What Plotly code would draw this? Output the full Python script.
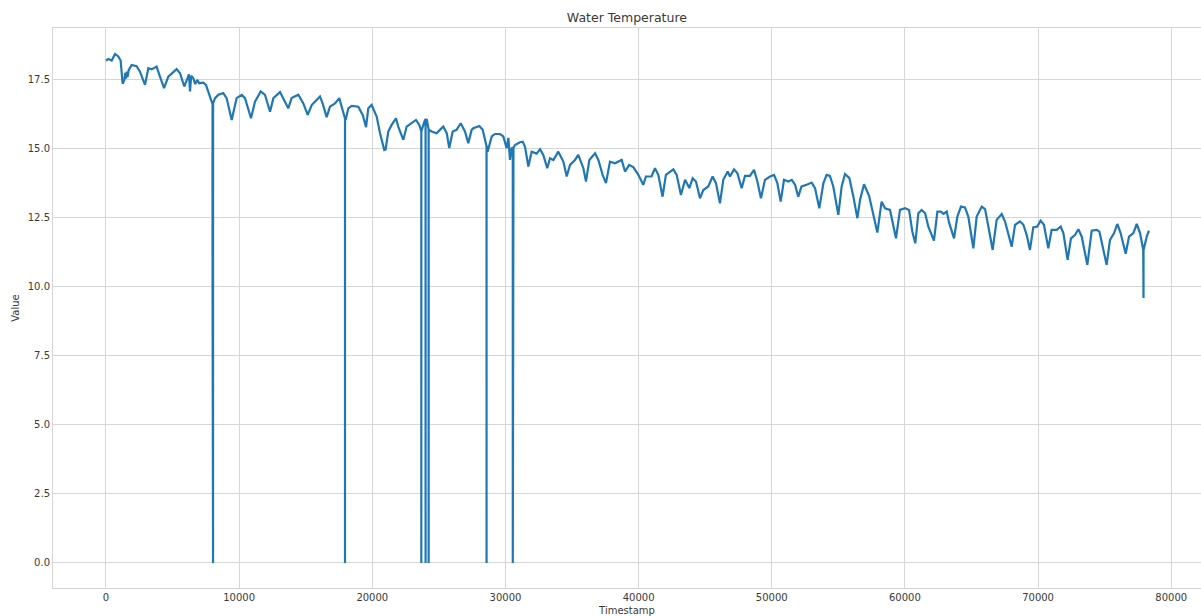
import plotly.graph_objects as go

# Water temperature readings (timestamp index, degrees)
timestamp = [
    0, 175, 430, 680, 925, 1100, 1250, 1380, 1450, 1500, 1560, 1620, 1700, 1930, 2300, 2550, 2930,
    3180, 3430, 3800, 4055, 4360, 4680, 5300, 5560, 5880, 6230, 6310, 6400, 6560, 6700, 6850, 7000,
    7310, 7510, 7810, 8000, 8001, 8002, 8040, 8041, 8042, 8190, 8440, 8810, 9060, 9440, 9810, 10190,
    10440, 10890, 11190, 11620, 11940, 12320, 12570, 13070, 13320, 13690, 13940, 14440, 14820, 15150,
    15450, 16070, 16270, 16570, 16820, 17200, 17520, 17820, 17950, 17951, 17952, 18000, 18200, 18450,
    18950, 19280, 19530, 19700, 19950, 20330, 20580, 20900, 21000, 21200, 21450, 21780, 21950, 22330,
    22580, 22960, 23280, 23530, 23680, 23681, 23682, 23910, 24000, 24001, 24002, 24090, 24230, 24231,
    24232, 24460, 24830, 25080, 25330, 25590, 25780, 26040, 26330, 26640, 26960, 27210, 27460, 27590,
    27840, 28040, 28290, 28540, 28580, 28581, 28582, 28660, 28970, 29210, 29590, 29840, 30090, 30220,
    30340, 30470, 30550, 30551, 30552, 30600, 30601, 30602, 30720, 31090, 31300, 31470, 31720, 31970,
    32340, 32600, 32840, 33140, 33350, 33600, 33970, 34350, 34600, 34850, 35220, 35470, 35850, 36050,
    36300, 36730, 36980, 37300, 37550, 37850, 38230, 38730, 38980, 39290, 39600, 39980, 40350, 40550,
    40970, 41230, 41480, 41800, 42050, 42230, 42610, 42860, 43180, 43490, 43810, 44060, 44310, 44610,
    44860, 45230, 45560, 45810, 46110, 46360, 46690, 46860, 47170, 47420, 47740, 47990, 48360, 48670,
    48920, 49190, 49490, 49870, 50170, 50420, 50670, 50920, 51250, 51500, 51750, 51990, 52240, 52620,
    53000, 53250, 53570, 53880, 54120, 54370, 54620, 55000, 55250, 55500, 55830, 56130, 56430, 56630,
    56930, 57310, 57630, 57930, 58250, 58510, 58880, 59130, 59330, 59630, 60010, 60310, 60560, 60780,
    61010, 61260, 61520, 61760, 62180, 62440, 62700, 62900, 63140, 63330, 63690, 63940, 64210, 64510,
    64760, 65140, 65390, 65770, 66020, 66270, 66590, 66890, 67270, 67520, 67770, 68020, 68270, 68640,
    68900, 69150, 69390, 69640, 69940, 70190, 70440, 70770, 71020, 71400, 71700, 71900, 72220, 72470,
    72770, 73030, 73280, 73700, 74030, 74410, 74610, 74850, 75150, 75400, 75710, 75950, 76200, 76580,
    76830, 77160, 77410, 77660, 77900, 77920, 77921, 78160, 78290, 78370,
]

temperature = [
    18.20, 18.26, 18.20, 18.44, 18.35, 18.20, 17.36, 17.50, 17.75, 17.55, 17.80, 17.60, 17.85, 18.04,
    18.00, 17.80, 17.32, 17.92, 17.88, 17.98, 17.62, 17.20, 17.62, 17.89, 17.74, 17.26, 17.70, 17.08,
    17.65, 17.56, 17.35, 17.50, 17.38, 17.40, 17.32, 16.84, 16.62, 10.10, 16.62, 16.60, 0.00, 16.65,
    16.84, 16.96, 17.02, 16.84, 16.05, 16.84, 16.96, 16.84, 16.11, 16.71, 17.08, 16.96, 16.35, 16.84,
    17.06, 16.84, 16.47, 16.84, 16.96, 16.65, 16.23, 16.59, 16.90, 16.65, 16.15, 16.53, 16.65, 16.84,
    16.29, 16.10, 0.00, 16.10, 16.05, 16.47, 16.56, 16.53, 16.23, 15.79, 16.47, 16.59, 16.17, 15.57,
    14.96, 14.98, 15.63, 15.87, 16.11, 15.81, 15.33, 15.81, 15.95, 16.05, 15.87, 15.63, 0.00, 15.63,
    15.99, 16.08, 0.00, 16.00, 16.08, 15.70, 0.00, 15.70, 15.63, 15.57, 15.69, 15.81, 15.57, 15.03,
    15.63, 15.69, 15.93, 15.63, 15.21, 15.69, 15.75, 15.79, 15.83, 15.69, 15.21, 15.10, 0.00, 15.10,
    14.90, 15.45, 15.54, 15.54, 15.45, 15.03, 15.40, 14.60, 15.05, 15.00, 0.00, 15.00, 15.05, 11.80,
    15.05, 15.14, 15.24, 15.26, 15.08, 14.36, 14.90, 14.83, 14.99, 14.78, 14.30, 14.66, 14.60, 14.90,
    14.54, 14.00, 14.42, 14.60, 14.78, 14.30, 13.82, 14.60, 14.84, 14.60, 14.06, 13.76, 14.54, 14.48,
    14.60, 14.18, 14.42, 14.34, 14.06, 13.70, 14.00, 14.00, 14.30, 14.06, 13.27, 14.06, 14.12, 14.26,
    14.06, 13.33, 13.88, 13.58, 13.94, 13.82, 13.21, 13.51, 13.64, 14.00, 13.76, 13.03, 13.88, 14.18,
    14.00, 14.26, 14.12, 13.58, 14.02, 14.02, 14.24, 13.82, 13.21, 13.88, 14.00, 14.06, 13.76, 13.09,
    13.88, 13.82, 13.88, 13.70, 13.27, 13.64, 13.70, 13.78, 13.58, 12.85, 13.76, 14.06, 14.02, 13.64,
    12.61, 13.64, 14.09, 13.94, 13.27, 12.49, 13.15, 13.72, 13.30, 12.55, 11.97, 13.09, 12.85, 12.79,
    12.25, 11.76, 12.79, 12.85, 12.79, 12.00, 11.58, 12.67, 12.79, 12.67, 12.18, 11.68, 12.73, 12.73,
    12.65, 12.73, 12.31, 11.76, 12.55, 12.91, 12.88, 12.55, 11.40, 12.55, 12.91, 12.82, 12.18, 11.34,
    12.43, 12.64, 12.37, 11.94, 11.46, 12.25, 12.37, 12.25, 11.88, 11.34, 12.16, 12.19, 12.40, 12.25,
    11.40, 12.07, 12.07, 12.19, 11.95, 10.98, 11.76, 11.88, 12.09, 11.82, 10.80, 12.04, 12.07, 12.00,
    11.46, 10.80, 11.70, 11.95, 12.28, 11.95, 11.20, 11.82, 11.95, 12.28, 11.95, 11.34, 9.60, 11.34,
    11.82, 12.00, 11.97,
]

x_ticks = [0, 10000, 20000, 30000, 40000, 50000, 60000, 70000, 80000]
y_ticks = [0.0, 2.5, 5.0, 7.5, 10.0, 12.5, 15.0, 17.5]

GRID = "#d6d6d6"
TEXT = "#3a3a3a"
FONT = "DejaVu Sans"

fig = go.Figure(
    go.Scatter(
        x=timestamp,
        y=temperature,
        mode="lines",
        line=dict(color="#1f77b4", width=2.2),
        hoverinfo="x+y",
    )
)

fig.update_layout(
    width=1201,
    height=616,
    margin=dict(l=53, r=0, t=28, b=28),
    paper_bgcolor="white",
    plot_bgcolor="white",
    showlegend=False,
    font=dict(family=FONT, size=10, color=TEXT),
    title=dict(
        text="Water Temperature",
        x=0.522,
        xanchor="center",
        y=1 - 18 / 616,
        yanchor="middle",
        yref="container",
        font=dict(family=FONT, size=12.5, color=TEXT),
    ),
)

fig.update_xaxes(
    range=[-3980, 82237],
    tickvals=x_ticks,
    ticktext=[str(v) for v in x_ticks],
    showgrid=True,
    gridcolor=GRID,
    gridwidth=1,
    zeroline=False,
    showline=True,
    linecolor=GRID,
    linewidth=1,
    mirror=True,
    ticks="",
    tickfont=dict(family=FONT, size=10, color=TEXT),
    title=dict(text="Timestamp", font=dict(family=FONT, size=10, color=TEXT), standoff=5),
)

fig.update_yaxes(
    range=[-0.906, 19.38],
    tickvals=y_ticks,
    ticktext=[f"{v:.1f}" for v in y_ticks],
    showgrid=True,
    gridcolor=GRID,
    gridwidth=1,
    zeroline=False,
    showline=True,
    linecolor=GRID,
    linewidth=1,
    mirror=True,
    ticks="",
    tickfont=dict(family=FONT, size=10, color=TEXT),
    title=dict(text="Value", font=dict(family=FONT, size=10, color=TEXT), standoff=6),
)

fig.write_html("out.html")
